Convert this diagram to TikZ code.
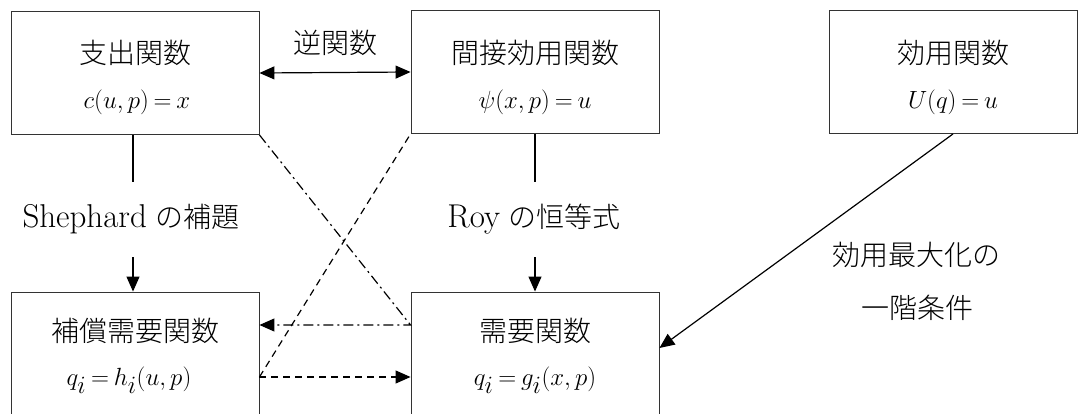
\documentclass[tikz,border=0pt]{standalone}
\usepackage{fontspec}
\newfontfamily\jp{Noto Sans CJK JP}[UprightFont=* Light]
\usetikzlibrary{arrows.meta}
\newcommand\mymath[1]{$\thickmuskip=3.5mu\relax #1$}
\begin{document}
\begin{tikzpicture}[x=1pt,y=-1pt,
  box/.style={draw=black!80,line width=0.9pt,minimum width=248pt,minimum height=123pt,inner sep=0pt},
  txt/.style={inner sep=0pt,font=\fontsize{28}{34}\selectfont},
  mth/.style={inner sep=0pt,font=\fontsize{34}{38}\selectfont},
  lbl/.style={inner sep=0pt,font=\fontsize{28}{34}\selectfont,align=center},
  conn/.style={line width=1.2pt},
  tip/.style={-{Triangle[length=15pt,width=13pt]}},
  dashdot/.style={dash pattern=on 10pt off 4pt on 2pt off 4pt},
  dsh/.style={dash pattern=on 7pt off 5pt}]
\useasboundingbox (0,0) rectangle (1078,414);
\clip (0,0) rectangle (1078,414);
% boxes
\node[box] (A) at (135,73) {};
\node[box] (B) at (535,72) {};
\node[box] (E) at (953,72) {};
\node[box] (C) at (135,353.5) {};
\node[box] (D) at (535,353.5) {};
% box texts
\node[txt] (A1) at (135,53) {\jp 支出関数};
\node[mth] (A2) at (137,102) {\mymath{c(u,p)=x}};
\node[txt] (B1) at (535,53) {\jp 間接効用関数};
\node[mth] (B2) at (535,102) {\mymath{\psi(x,p)=u}};
\node[txt] (E1) at (953,53) {\jp 効用関数};
\node[mth] (E2) at (953,102) {\mymath{U(q)=u}};
\node[txt] (C1) at (135,331) {\jp 補償需要関数};
\node[mth] (C2) at (129,380) {\mymath{q_i=h_i(u,p)}};
\node[txt] (D1) at (535,331) {\jp 需要関数};
\node[mth] (D2) at (535,380) {\mymath{q_i=g_i(x,p)}};
% labels
\node[lbl] (inv) at (335,43) {\jp 逆関数};
\node[lbl,minimum height=75pt] (sh) at (131,219.5) {{\fontsize{33}{38}\selectfont Shephard} {\jp の補題}};
\node[lbl,minimum height=75pt] (roy) at (534,219.5) {{\fontsize{33}{38}\selectfont Roy} {\jp の恒等式}};
\node[lbl] (um1) at (916,255) {\jp 効用最大化の};
\node[lbl] (um2) at (917,308) {\jp 一階条件};
% connectors
\draw[conn,{Triangle[length=15pt,width=13pt]}-{Triangle[length=15pt,width=13pt]}] (A.east) -- (B.west);
\draw[conn] (A.south -| 133,0) -- (133,0 |- sh.north);
\draw[conn,tip] (133,0 |- sh.south) -- (C.north -| 133,0);
\draw[conn] (B.south) -- (B.south |- roy.north);
\draw[conn,tip] (B.south |- roy.south) -- (D.north);
\draw[conn,tip] (E.south) -- ([yshift=5.5pt]D.east);
\draw[conn,dashdot,tip] (A.south east) -- ([yshift=28.5pt]D.west) -- ([yshift=28.5pt]C.east);
\draw[conn,dsh,tip] ([yshift=-23.5pt]C.east) -- ([yshift=-23.5pt]D.west);
\draw[conn,dsh] ([yshift=-23.5pt]C.east) -- (B.south west);
\end{tikzpicture}
\end{document}
